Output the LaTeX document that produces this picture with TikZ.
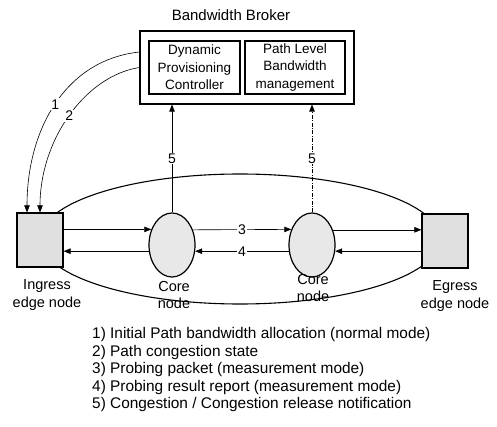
\documentclass[tikz,border=0pt]{standalone}
\usepackage{fontspec}
\setmainfont{Liberation Sans}
\usetikzlibrary{arrows.meta,shapes.geometric}

\begin{document}
\begin{tikzpicture}[x=1pt,y=-1pt,
  box/.style={draw,line width=1.1pt,inner sep=0pt,align=center},
  edgenode/.style={draw,line width=1.2pt,fill=black!12,minimum width=46pt,minimum height=54pt,inner sep=0pt},
  corenode/.style={ellipse,draw,line width=1.2pt,fill=black!9,minimum width=46pt,minimum height=64pt,inner sep=0pt},
  flow/.style={line width=0.6pt,-{Triangle[length=7pt,width=5.5pt]}},
  tag/.style={fill=white,inner sep=1pt,font=\fontsize{14}{16}\selectfont},
  lbl/.style={align=center,font=\fontsize{14.5}{17.5}\selectfont,inner sep=0pt},
]
\useasboundingbox (0,0) rectangle (497,427);

% Bandwidth broker with its two modules
\node[font=\fontsize{15}{18}\selectfont] (title) at (231,15) {Bandwidth Broker};
\node[box,minimum width=214pt,minimum height=73pt] (bb) at (247,67.5) {};
\node[box,minimum width=91pt,minimum height=53pt,font=\fontsize{13.5}{17.5}\selectfont] (dpc) at (194.5,67.5) {Dynamic\\Provisioning\\Controller};
\node[box,minimum width=100pt,minimum height=53pt,font=\fontsize{13.5}{17.5}\selectfont] (plb) at (295,67.5) {Path Level\\Bandwidth\\management};

% Domain boundary
\draw[line width=1.1pt] (240,239) ellipse [x radius=200pt, y radius=65pt];

% Edge and core routers
\node[edgenode] (ing) at (40,240) {};
\node[edgenode] (egr) at (445,241) {};
\node[corenode] (core1) at (172,245) {};
\node[corenode] (core2) at (312,245) {};

\node[lbl] (ingl) at (47,295) {Ingress\\edge node};
\node[lbl] (c1l) at (174,295) {Core\\node};
\node[lbl] (c2l) at (313,288) {Core\\node};
\node[lbl] (egrl) at (455,296) {Egress\\edge node};

% Forward direction (probing packets)
\draw[flow] (ing.east |- core1.143.5) -- (core1.143.5);
\draw[flow] (core1.36.5) -- node[tag]{3} (core2.143.5);
\draw[flow] (core2.36.5) -- (core2.36.5 -| egr.west);

% Reverse direction (probing results)
\draw[flow] (egr.west |- core2.-15) -- (core2.-15);
\draw[flow] (core2.195) -- node[tag]{4} (core1.-15);
\draw[flow] (core1.195) -- (core1.195 -| ing.east);

% Notifications to the broker
\draw[flow] (core1.north) -- node[tag]{5} (core1.north |- bb.south);
\draw[flow,dash pattern=on 4pt off 1.5pt on 0.8pt off 1.5pt] (core2.north) -- node[tag]{5} (core2.north |- bb.south);

% Broker to ingress
\draw[flow] ([yshift=15.5pt]bb.west) .. controls (65,60) and (27,130) .. node[tag]{1} ([xshift=-13pt]ing.north);
\draw[flow] (bb.west) .. controls (85,76) and (40,140) .. node[tag]{2} (ing.north);

% Legend
\node[anchor=west,align=left,inner sep=0pt,font=\fontsize{15.4}{17.5}\selectfont] (legend) at (92,370)
{1) Initial Path bandwidth allocation (normal mode)\\
2) Path congestion state\\
3) Probing packet (measurement mode)\\
4) Probing result report (measurement mode)\\
5) Congestion / Congestion release notification};
\end{tikzpicture}
\end{document}
